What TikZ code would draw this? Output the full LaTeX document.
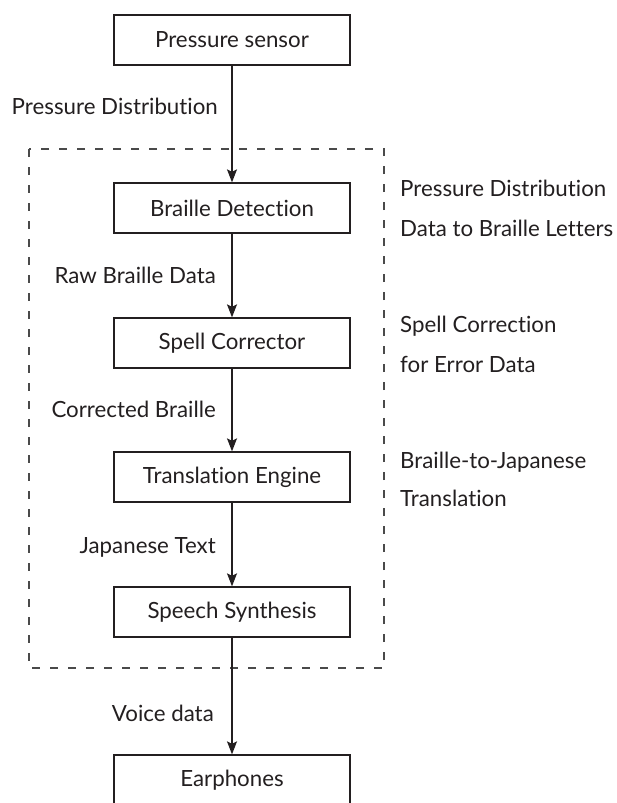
\documentclass[tikz,border=0pt]{standalone}
\usepackage{fontspec}
\setmainfont{Lato}[Ligatures=NoCommon]
\usetikzlibrary{arrows.meta}
\definecolor{ink}{HTML}{231F20}
\definecolor{dashc}{HTML}{4A4A4A}
\begin{document}
\begin{tikzpicture}[x=1pt,y=-1pt,
  txt/.style={font=\fontsize{22.3}{26}\selectfont, text=ink, inner sep=0pt},
  blk/.style={txt, draw=ink, line width=1.3pt, minimum width=236pt, minimum height=50pt},
  lbl/.style={txt, anchor=mid east, yshift=-5pt},
  note/.style={txt, anchor=mid west, yshift=-4pt},
  flow/.style={draw=ink, line width=1.3pt, -{Stealth[length=13pt,width=10pt,inset=2.5pt]}},
  grp/.style={draw=dashc, line width=1.2pt, dash pattern=on 8pt off 10pt}]
\useasboundingbox (0,0) rectangle (617,803);
\clip (0,0) rectangle (617,803);
\fill[white] (0,0) rectangle (617,803);
% group frame
\draw[grp] (29,149) rectangle (384,668);
% blocks
\node[blk] (ps) at (232,40) {Pressure sensor};
\node[blk] (bd) at (232,208) {Braille Detection};
\node[blk] (sc) at (232,343) {Spell Corrector};
\node[blk] (te) at (232,477) {Translation Engine};
\node[blk] (ss) at (232,612) {Speech Synthesis};
\node[blk] (ep) at (232,780) {Earphones};
% connectors
\draw[flow] (ps) -- (bd);
\draw[flow] (bd) -- (sc);
\draw[flow] (sc) -- (te);
\draw[flow] (te) -- (ss);
\draw[flow] (ss) -- (ep);
% flow labels
\node[lbl] (l1) at (218,107) {Pressure Distribution};
\node[lbl] (l2) at (216,276) {Raw Braille Data};
\node[lbl] (l3) at (216,410) {Corrected Braille};
\node[lbl] (l4) at (216,546) {Japanese Text};
\node[lbl] (l5) at (214,714) {Voice data};
% side notes
\node[note] (n1a) at (400,190) {Pressure Distribution};
\node[note] (n1b) at (400,230) {Data to Braille Letters};
\node[note] (n2a) at (400,326) {Spell Correction};
\node[note] (n2b) at (400,366) {for Error Data};
\node[note] (n3a) at (400,462) {Braille-to-Japanese};
\node[note] (n3b) at (400,500) {Translation};
\end{tikzpicture}
\end{document}
